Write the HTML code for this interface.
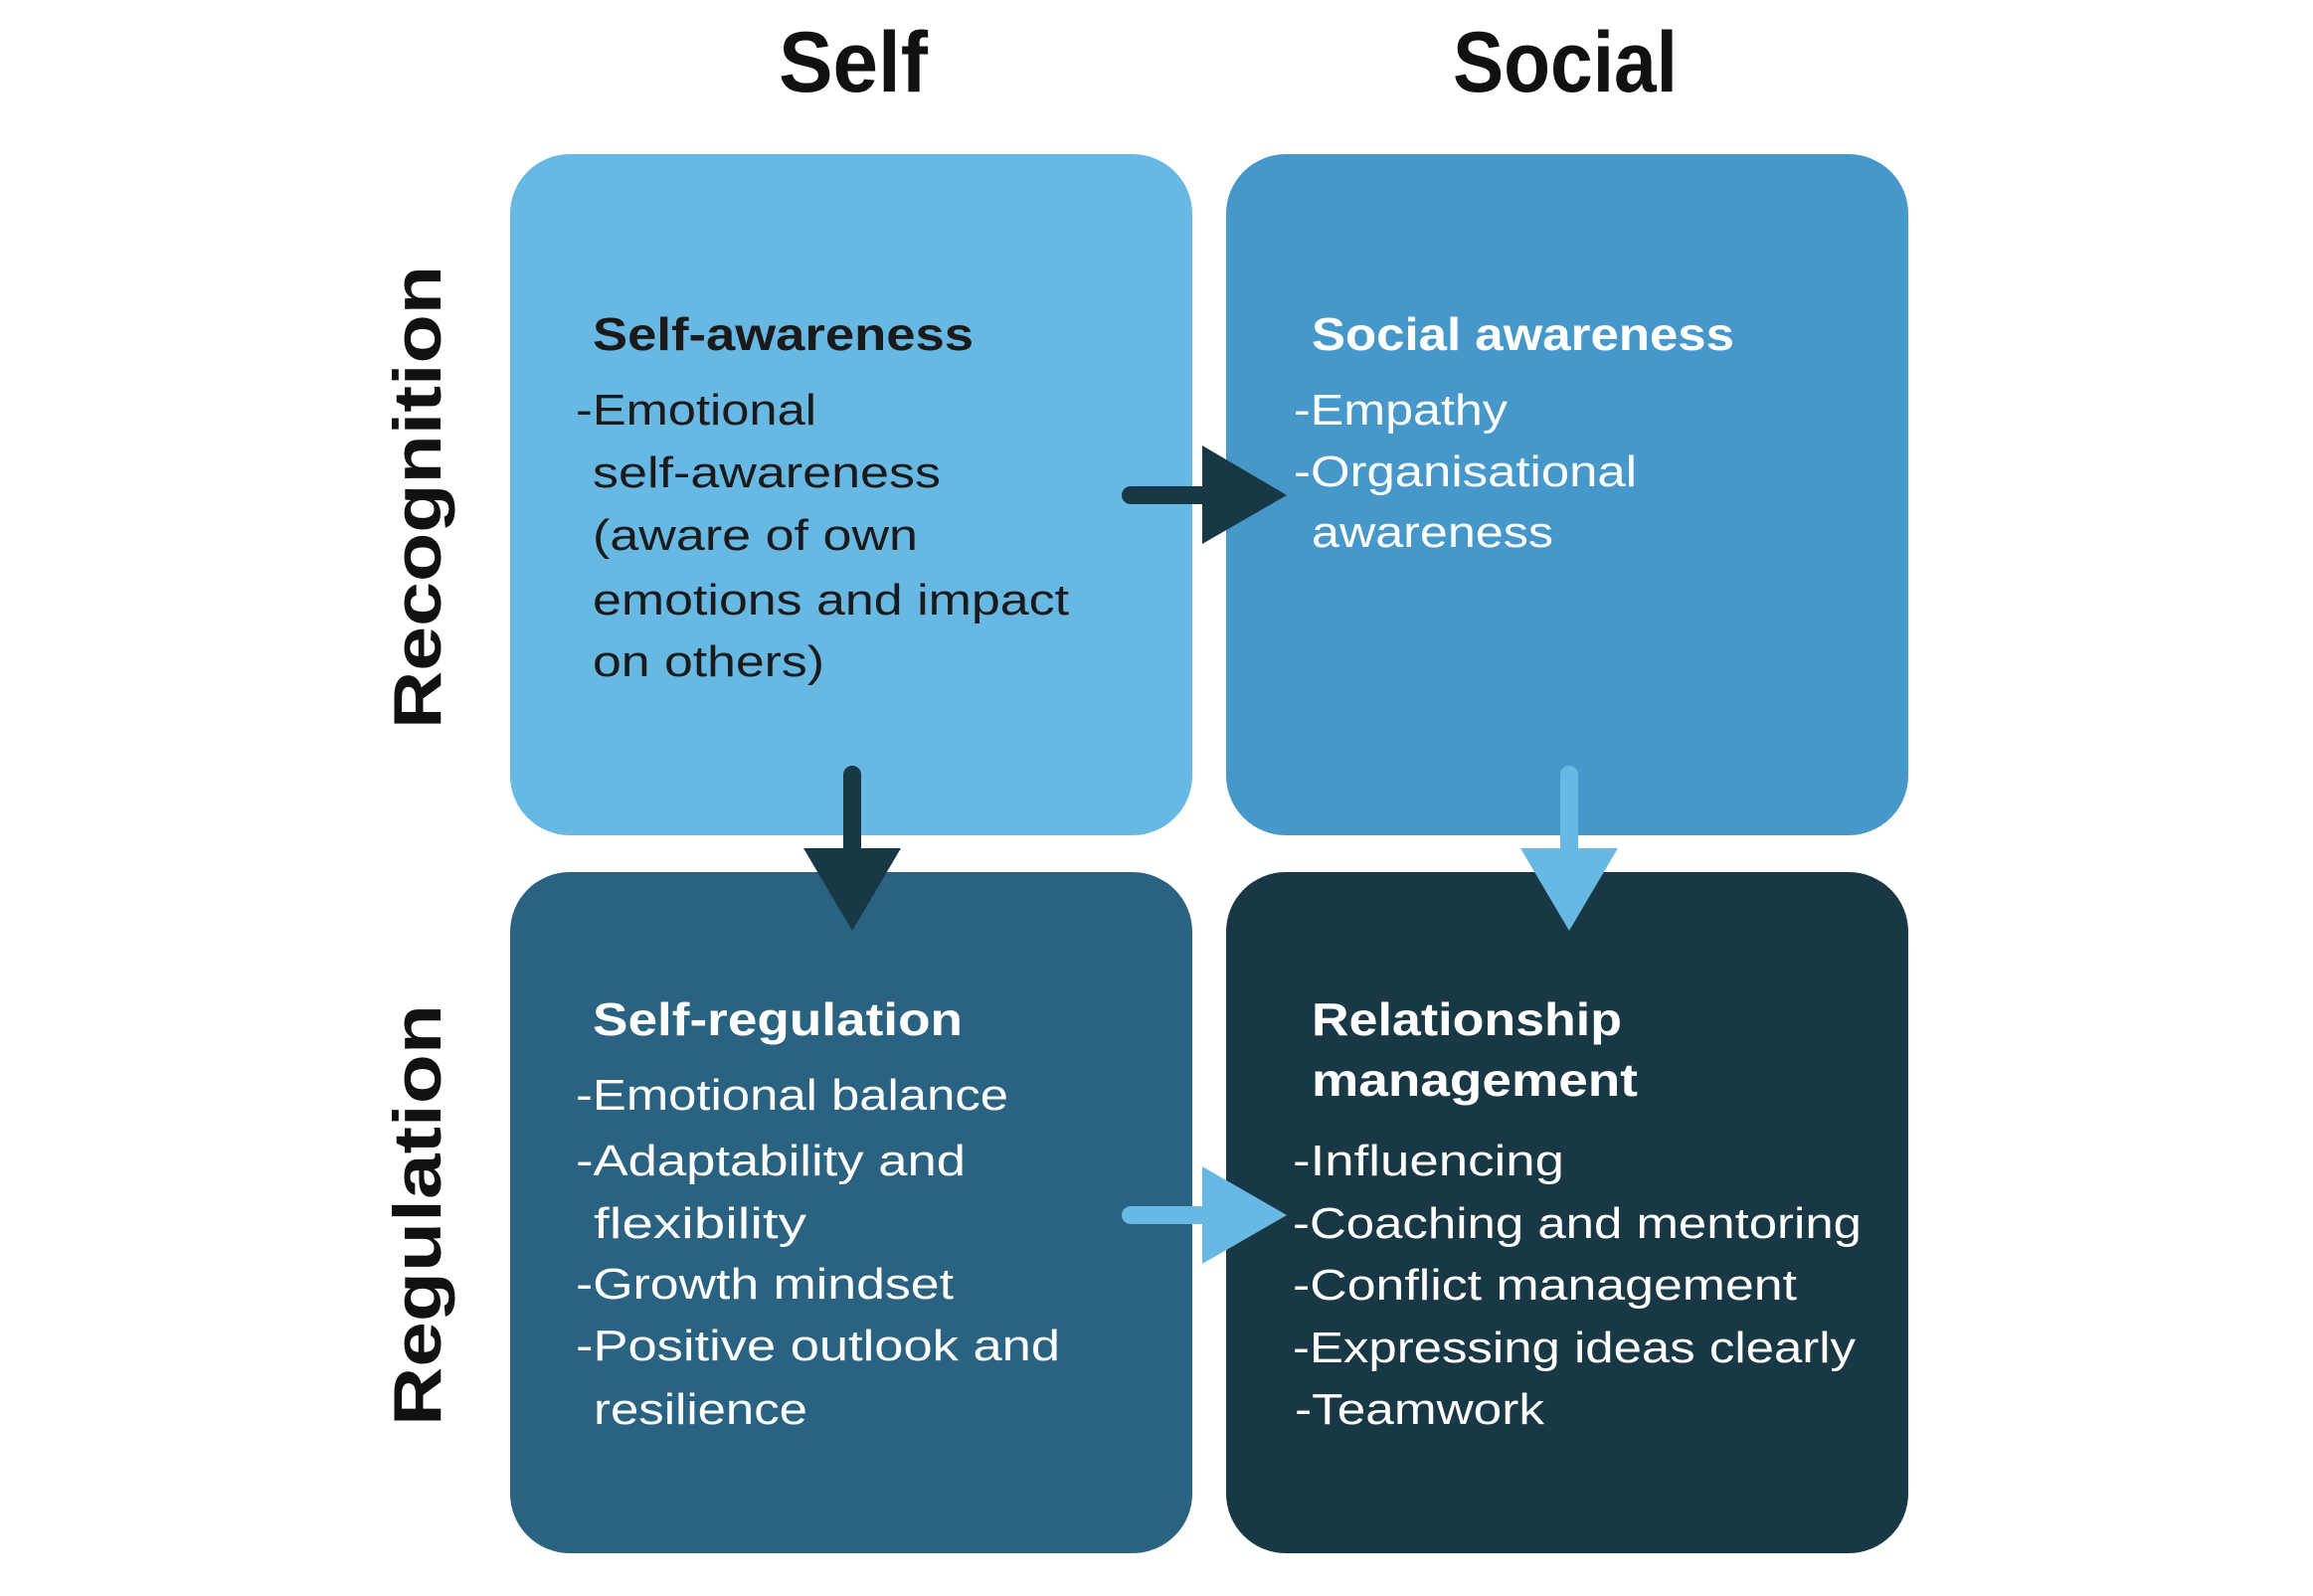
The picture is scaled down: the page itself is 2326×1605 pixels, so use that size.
<!DOCTYPE html>
<html><head><meta charset="utf-8"><style>
html,body{margin:0;padding:0;background:#fff;width:2326px;height:1605px;overflow:hidden}
svg{display:block}
text{font-family:"Liberation Sans",sans-serif}
.h{font-weight:bold;font-size:46px}
.b{font-size:44px}
</style></head><body>
<svg width="2326" height="1605" viewBox="0 0 2326 1605">
<rect x="513" y="155" width="686" height="685" rx="60" fill="#67b8e3"/>
<rect x="1233" y="155" width="686" height="685" rx="60" fill="#4698cb"/>
<rect x="513" y="877" width="686" height="685" rx="60" fill="#2a6282"/>
<rect x="1233" y="877" width="686" height="685" rx="60" fill="#183845"/>

<text x="783" y="92" font-size="86" font-weight="bold" textLength="150" lengthAdjust="spacingAndGlyphs" fill="#111">Self</text>
<text x="1461" y="92" font-size="86" font-weight="bold" textLength="226" lengthAdjust="spacingAndGlyphs" fill="#111">Social</text>
<text transform="translate(443,733) rotate(-90)" font-size="68" font-weight="bold" textLength="466" lengthAdjust="spacingAndGlyphs" fill="#111">Recognition</text>
<text transform="translate(443,1434) rotate(-90)" font-size="68" font-weight="bold" textLength="424" lengthAdjust="spacingAndGlyphs" fill="#111">Regulation</text>

<g fill="#1a1a1a">
<text class="h" x="596" y="352" textLength="383" lengthAdjust="spacingAndGlyphs">Self-awareness</text>
<text class="b" x="579" y="427" textLength="242" lengthAdjust="spacingAndGlyphs">-Emotional</text>
<text class="b" x="596" y="490" textLength="350" lengthAdjust="spacingAndGlyphs">self-awareness</text>
<text class="b" x="596" y="553" textLength="327" lengthAdjust="spacingAndGlyphs">(aware of own</text>
<text class="b" x="596" y="618" textLength="479" lengthAdjust="spacingAndGlyphs">emotions and impact</text>
<text class="b" x="596" y="680" textLength="233" lengthAdjust="spacingAndGlyphs">on others)</text>
</g>
<g fill="#fff">
<text class="h" x="1319" y="352" textLength="425" lengthAdjust="spacingAndGlyphs">Social awareness</text>
<text class="b" x="1301" y="427" textLength="215" lengthAdjust="spacingAndGlyphs">-Empathy</text>
<text class="b" x="1301" y="489" textLength="345" lengthAdjust="spacingAndGlyphs">-Organisational</text>
<text class="b" x="1319" y="550" textLength="243" lengthAdjust="spacingAndGlyphs">awareness</text>

<text class="h" x="596" y="1041" textLength="372" lengthAdjust="spacingAndGlyphs">Self-regulation</text>
<text class="b" x="579" y="1116" textLength="435" lengthAdjust="spacingAndGlyphs">-Emotional balance</text>
<text class="b" x="579" y="1182" textLength="392" lengthAdjust="spacingAndGlyphs">-Adaptability and</text>
<text class="b" x="597" y="1245" textLength="214" lengthAdjust="spacingAndGlyphs">flexibility</text>
<text class="b" x="579" y="1306" textLength="380" lengthAdjust="spacingAndGlyphs">-Growth mindset</text>
<text class="b" x="579" y="1368" textLength="487" lengthAdjust="spacingAndGlyphs">-Positive outlook and</text>
<text class="b" x="597" y="1432" textLength="215" lengthAdjust="spacingAndGlyphs">resilience</text>

<text class="h" x="1319" y="1041" textLength="312" lengthAdjust="spacingAndGlyphs">Relationship</text>
<text class="h" x="1319" y="1102" textLength="328" lengthAdjust="spacingAndGlyphs">management</text>
<text class="b" x="1300" y="1182" textLength="273" lengthAdjust="spacingAndGlyphs">-Influencing</text>
<text class="b" x="1300" y="1245" textLength="572" lengthAdjust="spacingAndGlyphs">-Coaching and mentoring</text>
<text class="b" x="1300" y="1307" textLength="507" lengthAdjust="spacingAndGlyphs">-Conflict management</text>
<text class="b" x="1300" y="1370" textLength="566" lengthAdjust="spacingAndGlyphs">-Expressing ideas clearly</text>
<text class="b" x="1302" y="1432" textLength="251" lengthAdjust="spacingAndGlyphs">-Teamwork</text>
</g>

<!-- arrows -->
<line x1="1137" y1="498" x2="1215" y2="498" stroke="#183845" stroke-width="18" stroke-linecap="round"/>
<polygon points="1209,448 1294,498 1209,547" fill="#183845"/>
<line x1="1137" y1="1222" x2="1215" y2="1222" stroke="#67b8e3" stroke-width="18" stroke-linecap="round"/>
<polygon points="1209,1173 1294,1222 1209,1271" fill="#67b8e3"/>
<line x1="857" y1="779" x2="857" y2="860" stroke="#183845" stroke-width="18" stroke-linecap="round"/>
<polygon points="808,853 906,853 857,936" fill="#183845"/>
<line x1="1578" y1="779" x2="1578" y2="860" stroke="#67b8e3" stroke-width="18" stroke-linecap="round"/>
<polygon points="1529,853 1627,853 1578,936" fill="#67b8e3"/>
</svg>
</body></html>
